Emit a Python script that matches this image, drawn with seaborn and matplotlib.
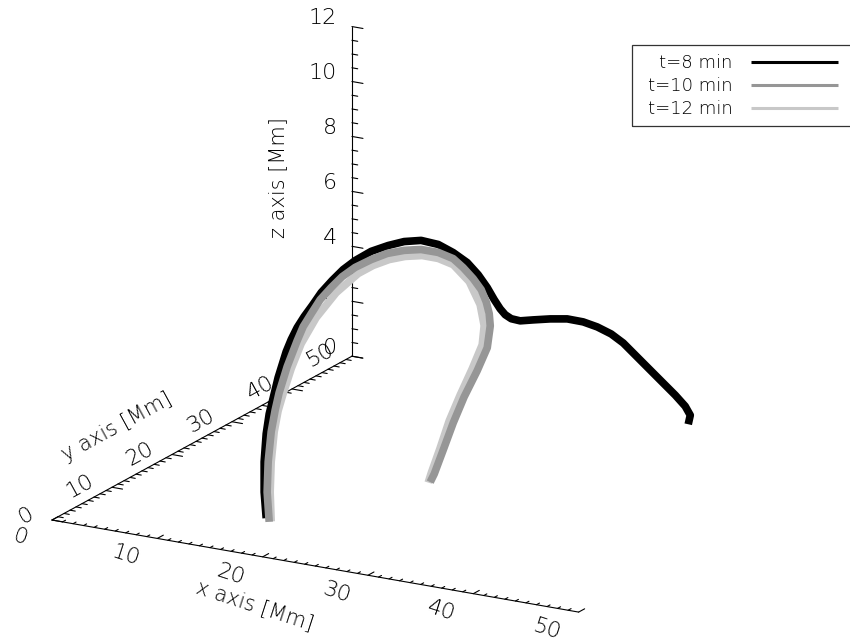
import numpy as np
import matplotlib
matplotlib.use('Agg')
import matplotlib.pyplot as plt
from matplotlib.patches import Rectangle
import seaborn as sns

# field line positions [Mm], t = 8 min
x8 = [15.74, 15.66, 15.66, 15.74, 15.86, 16.02, 16.21, 16.53, 16.73, 16.96, 17.24, 17.56, 17.91, 18.34,
      18.78, 19.25, 19.88, 20.55, 21.18, 21.85, 22.53, 23.12, 23.67, 24.10, 24.46, 24.73, 24.97, 25.17,
      25.41, 25.53, 25.98, 26.53, 27.03, 27.67, 28.26, 28.92, 29.53, 30.90, 32.09, 32.73, 33.09, 33.19,
      33.15]
y8 = [8.07, 7.87, 7.87, 8.07, 8.36, 8.75, 9.23, 10.01, 10.50, 11.09, 11.77, 12.55, 13.43, 14.50,
      15.57, 16.74, 18.30, 19.96, 21.52, 23.17, 24.83, 26.29, 27.66, 28.73, 29.61, 30.29, 30.87, 31.36,
      31.95, 33.22, 34.60, 36.47, 38.43, 39.97, 41.28, 42.44, 43.38, 44.31, 45.56, 46.44, 47.46, 48.13,
      47.86]
z8 = [0.16, 1.13, 2.23, 3.23, 3.93, 4.48, 5.17, 6.04, 6.44, 6.82, 7.16, 7.49, 7.88, 8.22,
      8.52, 8.74, 8.93, 8.99, 8.99, 8.88, 8.58, 8.15, 7.66, 7.12, 6.57, 6.07, 5.68, 5.42,
      5.22, 5.00, 4.90, 4.75, 4.55, 4.30, 4.00, 3.65, 3.25, 2.50, 1.70, 1.20, 0.70, 0.30,
      0.00]

# t = 10 min
x10 = [15.86, 15.78, 15.82, 15.94, 16.10, 16.25, 16.57, 16.77, 16.96, 17.20, 17.52, 17.87, 18.30,
       18.74, 19.25, 19.88, 20.51, 21.18, 21.85, 22.53, 23.12, 23.51, 23.91, 24.22, 24.42, 24.54,
       24.58, 24.46, 24.06, 23.55, 23.12, 22.72, 22.37, 22.21]
y10 = [8.36, 8.16, 8.26, 8.55, 8.94, 9.33, 10.11, 10.60, 11.09, 11.67, 12.45, 13.33, 14.40,
       15.47, 16.74, 18.30, 19.86, 21.52, 23.17, 24.83, 26.29, 27.27, 28.24, 29.02, 29.51, 29.80,
       29.90, 29.61, 28.63, 27.36, 26.29, 25.32, 24.44, 24.05]
z10 = [0.00, 1.10, 2.19, 3.26, 4.02, 4.61, 5.49, 5.92, 6.34, 6.80, 7.20, 7.63, 7.97,
       8.27, 8.49, 8.63, 8.71, 8.67, 8.55, 8.29, 7.93, 7.51, 7.02, 6.55, 6.06, 5.60,
       5.15, 4.38, 3.63, 2.80, 1.95, 1.05, 0.26, 0.00]

# t = 12 min
x12 = [15.94, 15.90, 15.94, 16.06, 16.21, 16.41, 16.73, 17.12, 17.71, 18.50, 19.37, 19.96, 20.59, 21.22,
       21.89, 22.53, 23.12, 23.75, 24.18, 24.34, 24.26, 23.87, 23.39, 22.96, 22.60, 22.25, 22.13]
y12 = [8.55, 8.45, 8.55, 8.84, 9.23, 9.72, 10.50, 11.48, 12.94, 14.89, 17.03, 18.49, 20.05, 21.61,
       23.27, 24.83, 26.29, 27.85, 28.92, 29.31, 29.12, 28.14, 26.97, 25.90, 25.02, 24.15, 23.86]
z12 = [0.00, 1.08, 2.16, 3.23, 3.96, 4.54, 5.38, 6.20, 7.01, 7.74, 8.24, 8.40, 8.47, 8.44,
       8.32, 8.07, 7.71, 6.95, 6.01, 5.21, 4.53, 3.75, 2.90, 2.06, 1.15, 0.32, 0.00]

labels = ['t=8 min', 't=10 min', 't=12 min']
colors = ['black', '#969696', '#c8c8c8']

x_ticks = [0, 10, 20, 30, 40, 50]
y_ticks = [0, 10, 20, 30, 40, 50]
z_ticks = [0, 2, 4, 6, 8, 10, 12]

sns.set_theme(style='white')
plt.rcParams['font.family'] = ['DejaVu Sans']
plt.rcParams['text.color'] = 'black'

fig = plt.figure(figsize=(8.5, 6.42), dpi=100)
ax = fig.add_axes([31.6 / 850, -7 / 642, 1, 1], projection='3d', proj_type='ortho',
                  computed_zorder=False)
ax.set_box_aspect((604, 608, 346), zoom=1.40)
ax.view_init(elev=18, azim=-60.5)
ax.set_xticks([])
ax.set_yticks([])
ax.set_zticks([])
ax.set_axis_off()

ak = dict(color='black', lw=0.8, zorder=1, clip_on=False)
# axis lines
ax.plot([0, 50], [0, 0], [0, 0], **ak)
ax.plot([0, 0], [0, 50], [0, 0], **ak)
ax.plot([0, 0], [50, 50], [0, 12], **ak)
# tick marks
for v in range(0, 51):
    L = 1.0 if v % 10 == 0 else 0.5
    ax.plot([v, v], [0, L], [0, 0], **ak)
    ax.plot([0, L], [v, v], [0, 0], **ak)
for v in np.arange(0, 12.01, 0.5):
    L = 1.05 if v % 2 == 0 else 0.55
    ax.plot([0, L], [50, 50], [v, v], **ak)

tk = dict(fontsize=16, fontweight=200, color='black', zorder=2)
for t in x_ticks:
    ax.text(t, -5.3, 0, str(t), (1, -0.3, 0), ha='center', va='center', **tk)
for t in y_ticks:
    ax.text(-2.4, t + 1.0, 0, str(t), 'y', ha='right', va='center', rotation_mode='anchor', **tk)
for t in z_ticks:
    ax.text(-1.43, 50, t + 0.20, str(t), None, ha='right', va='center', **tk)

lk = dict(fontsize=15, fontweight=200, color='black', zorder=2, ha='center', va='center')
ax.text(25.8, -11.4, 0, 'x axis [Mm]', (1, -0.3, 0), **lk)
ax.text(-7.6, 24.1, 0, 'y axis [Mm]', 'y', **lk)
ax.text(-7.0, 50, 6.03, 'z axis [Mm]', 'z', **lk)

# loops
lw = dict(lw=5.5, solid_capstyle='butt', solid_joinstyle='round')
ax.plot(x12, y12, z12, color=colors[2], zorder=3, label=labels[2], **lw)
ax.plot(x8, y8, z8, color=colors[0], zorder=4, label=labels[0], **lw)
ax.plot(x10, y10, z10, color=colors[1], zorder=5, label=labels[1], **lw)

ax.set_xlim(0, 50)
ax.set_ylim(0, 50)
ax.set_zlim(0, 12)

h, l = ax.get_legend_handles_labels()
order = [l.index(s) for s in labels]
leg = fig.legend([h[i] for i in order], labels, loc='upper right',
                 bbox_to_anchor=(838 / 850, 1 - 54.5 / 642), frameon=False, markerfirst=False,
                 handlelength=4.83, handletextpad=1.0, borderpad=0, borderaxespad=0,
                 labelspacing=0.27, prop={'size': 13, 'weight': 200})
for ln in leg.get_lines():
    ln.set_linewidth(2.2)
for tx in leg.get_texts():
    tx.set_color('black')
# legend box runs off the right edge as in the original
fig.add_artist(Rectangle((632 / 850, 1 - 126 / 642), 240 / 850, 81 / 642,
                         transform=fig.transFigure, fill=False, ec='#333333', lw=0.9))

fig.savefig('out.png', dpi=100)
